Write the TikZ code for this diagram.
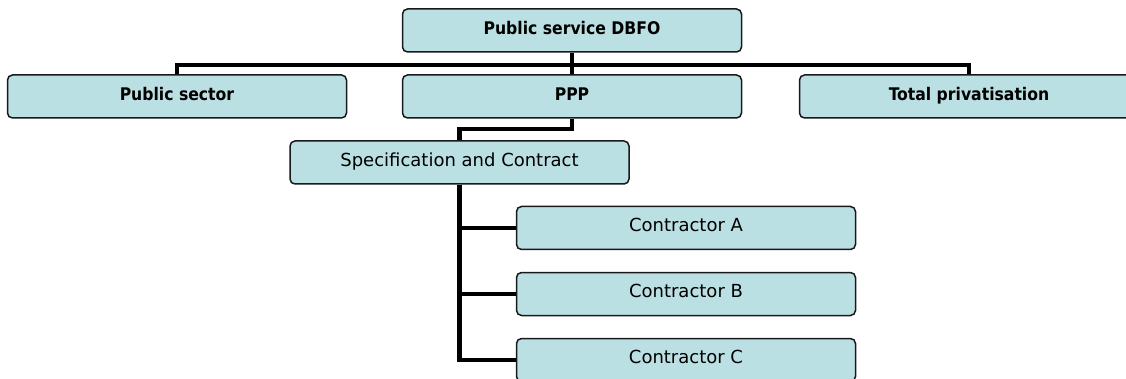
\documentclass[tikz,border=0pt]{standalone}
\usepackage{fontspec}
\setmainfont{DejaVu Sans}
\newfontfamily\condbold{DejaVu Sans Condensed Bold}
\definecolor{boxfill}{RGB}{187,224,227}
\definecolor{boxline}{RGB}{25,25,25}
\begin{document}
\begin{tikzpicture}[x=1pt,y=-1pt,
  orgbox/.style={draw=boxline,line width=1.5pt,fill=boxfill,rounded corners=5pt,
    minimum width=339pt,minimum height=43pt,inner sep=0pt,
    text height=13.2pt,text depth=6pt,font=\fontsize{18}{20}\selectfont},
  boldbox/.style={orgbox,text height=12.7pt,text depth=5pt,font=\fontsize{17.4}{20}\condbold},
  conn/.style={line width=4.8pt,black,line join=miter}]
\useasboundingbox (0,0) rectangle (1126,379);
\clip (0,0) rectangle (1126,379);
\node[boldbox] (top) at (572,30.5) {Public service DBFO};
\node[boldbox] (ps) at (177,96.5) {Public sector};
\node[boldbox] (ppp) at (572,96.5) {PPP};
\node[boldbox] (tp) at (969,96.5) {Total privatisation};
\node[orgbox] (spec) at (459.5,162.5) {Specification and Contract};
\node[orgbox] (ca) at (686,228) {Contractor A};
\node[orgbox] (cb) at (686,294) {Contractor B};
\node[orgbox] (cc) at (686,360) {Contractor C};
\coordinate (bar) at (572,65);
\coordinate (elb) at (572,129);
\draw[conn] (top.south) -- (ppp.north);
\draw[conn] (ps.north) |- (bar) -| (tp.north);
\draw[conn] (ppp.south) -- (elb) -| (spec.north);
\draw[conn] (spec.south) |- (ca.west);
\draw[conn] (spec.south) |- (cb.west);
\draw[conn] (spec.south) |- (cc.west);
\end{tikzpicture}
\end{document}
